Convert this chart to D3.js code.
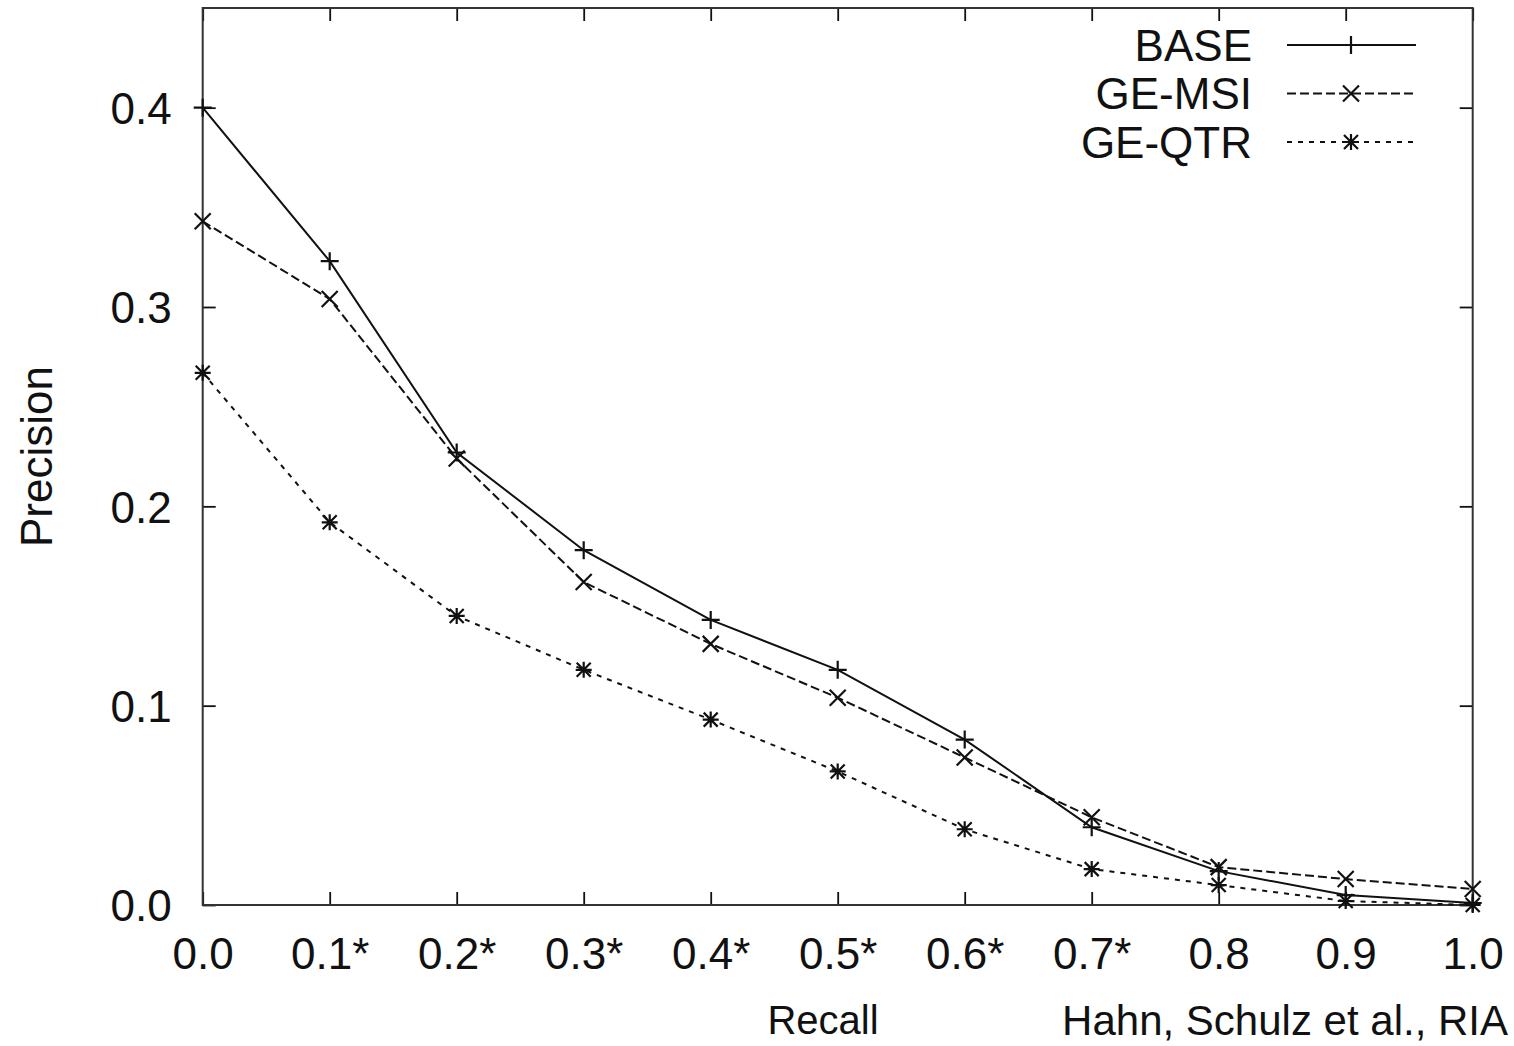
<!DOCTYPE html>
<html lang="en">
<head>
<meta charset="utf-8">
<title>Precision / Recall</title>
<script src="https://cdn.jsdelivr.net/npm/d3@7"></script>
<style>
  body { margin: 0; background: #fff; }
  text { font-family: "Liberation Sans", Arial, sans-serif; fill: #111; }
</style>
</head>
<body>
<script>

// recall levels and the tick labels shown under them
var recall = [0.0, 0.1, 0.2, 0.3, 0.4, 0.5, 0.6, 0.7, 0.8, 0.9, 1.0];
var xTickLabels = ["0.0", "0.1*", "0.2*", "0.3*", "0.4*", "0.5*", "0.6*", "0.7*", "0.8", "0.9", "1.0"];
var yTicks = [0.0, 0.1, 0.2, 0.3, 0.4];

// precision values per series
var base  = [0.400, 0.323, 0.227, 0.178, 0.143, 0.118, 0.083, 0.039, 0.017, 0.005, 0.001];
var geMsi = [0.343, 0.304, 0.224, 0.162, 0.131, 0.104, 0.074, 0.044, 0.019, 0.013, 0.008];
var geQtr = [0.267, 0.192, 0.145, 0.118, 0.093, 0.067, 0.038, 0.018, 0.010, 0.002, 0.000];

var seriesNames = ["BASE", "GE-MSI", "GE-QTR"];

var width = 1514, height = 1046;
var plotLeft = 202.7, plotRight = 1472.7, plotTop = 8, plotBottom = 905;

var svg = d3.select("body").append("svg")
    .attr("width", width)
    .attr("height", height);

var x = d3.scaleLinear().domain([0, 1]).range([plotLeft, plotRight]);
var y = d3.scaleLinear().domain([0, 0.45]).range([plotBottom, plotTop]);

var ink = "#111";

// marker shapes, gnuplot style (stroked, not filled)
var shapes = {
    plus:  "M-9,0H9M0,-9V9",
    cross: "M-8,-8L8,8M-8,8L8,-8",
    star:  "M-8,0H8M0,-8V8M-7,-7L7,7M-7,7L7,-7"
};

var series = [
    { name: seriesNames[0], values: base,  dash: null,  shape: shapes.plus },
    { name: seriesNames[1], values: geMsi, dash: "9,4", shape: shapes.cross },
    { name: seriesNames[2], values: geQtr, dash: "5,6", shape: shapes.star }
];

// axes: ticks point inward, mirrored on top and right
var xAxis = d3.axisBottom(x).tickValues(recall)
    .tickFormat(function(d, i) { return xTickLabels[i]; })
    .tickSizeInner(-13).tickSizeOuter(0);
var gx = svg.append("g").attr("transform", "translate(0," + plotBottom + ")").call(xAxis);
gx.selectAll("text").attr("y", 64).attr("dy", 0)
    .style("font-size", "44px").style("font-family", "Liberation Sans, Arial, sans-serif").attr("fill", ink);

var xTop = d3.axisTop(x).tickValues(recall).tickFormat("").tickSizeInner(-13).tickSizeOuter(0);
svg.append("g").attr("transform", "translate(0," + plotTop + ")").call(xTop);

var yAxis = d3.axisLeft(y).tickValues(yTicks).tickFormat(d3.format(".1f"))
    .tickSizeInner(-13).tickSizeOuter(0);
var gy = svg.append("g").attr("transform", "translate(" + plotLeft + ",0)").call(yAxis);
gy.selectAll("text").attr("x", -31).attr("dy", "0.36em")
    .style("font-size", "44px").style("font-family", "Liberation Sans, Arial, sans-serif").attr("fill", ink);

var yRight = d3.axisRight(y).tickValues(yTicks).tickFormat("").tickSizeInner(-13).tickSizeOuter(0);
svg.append("g").attr("transform", "translate(" + plotRight + ",0)").call(yRight);

svg.selectAll(".domain").remove();
svg.selectAll(".tick line").attr("stroke", ink).attr("stroke-width", 1.8);

// frame
svg.append("rect")
    .attr("x", plotLeft).attr("y", plotTop)
    .attr("width", plotRight - plotLeft).attr("height", plotBottom - plotTop)
    .attr("fill", "none").attr("stroke", "#333").attr("stroke-width", 2);

// lines and markers
var line = d3.line()
    .x(function(d, i) { return x(recall[i]); })
    .y(function(d) { return y(d); });

series.forEach(function(s) {
    svg.append("path")
        .datum(s.values)
        .attr("d", line)
        .attr("fill", "none")
        .attr("stroke", ink)
        .attr("stroke-width", 2)
        .attr("stroke-dasharray", s.dash);

    svg.selectAll(null)
        .data(s.values)
        .enter()
        .append("path")
        .attr("d", s.shape)
        .attr("transform", function(d, i) { return "translate(" + x(recall[i]) + "," + y(d) + ")"; })
        .attr("fill", "none")
        .attr("stroke", ink)
        .attr("stroke-width", 2.2);
});

// legend
var legend = svg.append("g");
series.forEach(function(s, i) {
    var ly = 45 + i * 48.5;
    legend.append("text")
        .attr("x", 1252).attr("y", ly)
        .attr("dy", "0.36em")
        .attr("text-anchor", "end")
        .style("font-size", "44px")
        .text(s.name);
    legend.append("line")
        .attr("x1", 1287).attr("x2", 1416)
        .attr("y1", ly).attr("y2", ly)
        .attr("stroke", ink).attr("stroke-width", 2)
        .attr("stroke-dasharray", s.dash);
    legend.append("path")
        .attr("d", s.shape)
        .attr("transform", "translate(1351," + ly + ")")
        .attr("fill", "none").attr("stroke", ink).attr("stroke-width", 2.2);
});

// axis titles
svg.append("text")
    .attr("transform", "translate(52," + (plotTop + plotBottom) / 2 + ") rotate(-90)")
    .attr("text-anchor", "middle")
    .style("font-size", "44px")
    .text("Precision");

svg.append("text")
    .attr("x", 823).attr("y", 1034)
    .attr("text-anchor", "middle")
    .style("font-size", "40px")
    .text("Recall");

svg.append("text")
    .attr("x", 1508).attr("y", 1035)
    .attr("text-anchor", "end")
    .style("font-size", "42px")
    .text("Hahn, Schulz et al., RIA");

</script>
</body>
</html>
